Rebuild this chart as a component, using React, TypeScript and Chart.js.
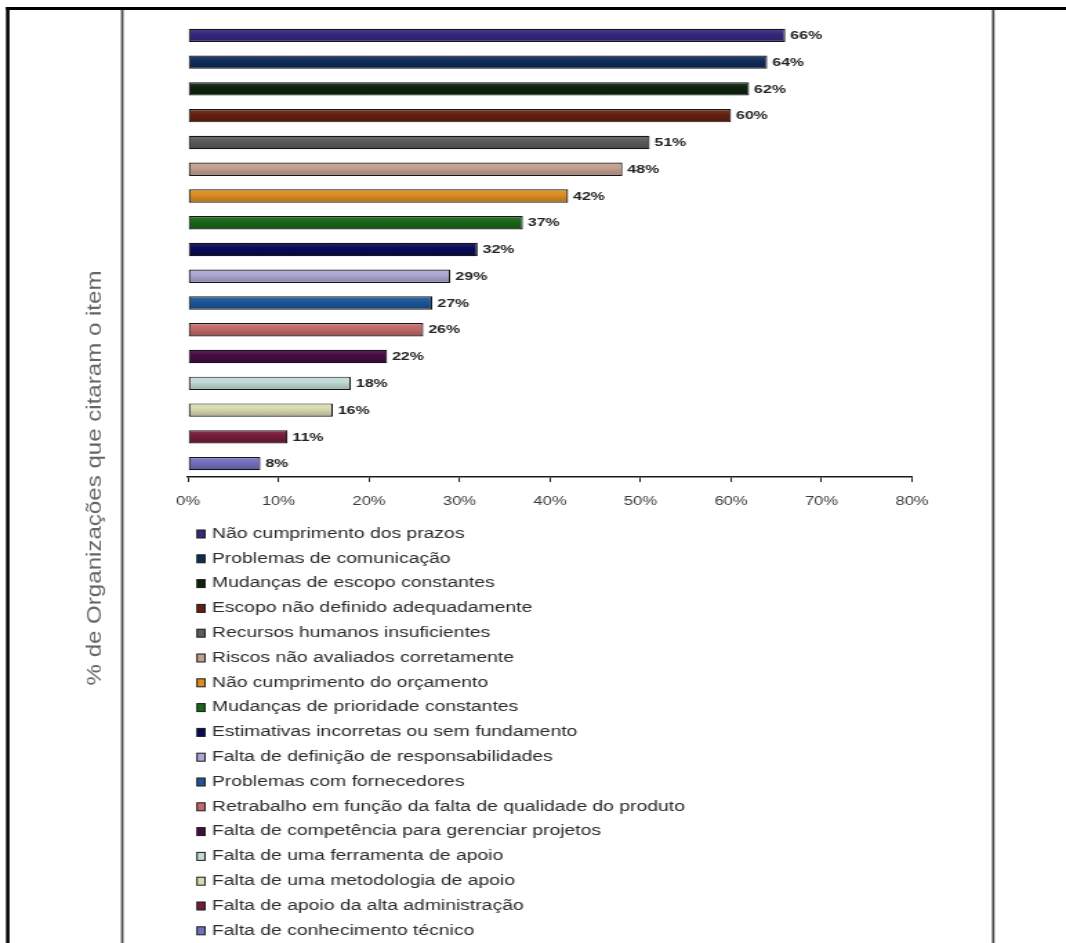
import React, { useEffect, useRef } from 'react';
import { Chart, registerables } from 'chart.js';

Chart.register(...registerables);

// ---------- data ----------
const categories = [
  'Não cumprimento dos prazos',
  'Problemas de comunicação',
  'Mudanças de escopo constantes',
  'Escopo não definido adequadamente',
  'Recursos humanos insuficientes',
  'Riscos não avaliados corretamente',
  'Não cumprimento do orçamento',
  'Mudanças de prioridade constantes',
  'Estimativas incorretas ou sem fundamento',
  'Falta de definição de responsabilidades',
  'Problemas com fornecedores',
  'Retrabalho em função da falta de qualidade do produto',
  'Falta de competência para gerenciar projetos',
  'Falta de uma ferramenta de apoio',
  'Falta de uma metodologia de apoio',
  'Falta de apoio da alta administração',
  'Falta de conhecimento técnico',
];

const values = [66, 64, 62, 60, 51, 48, 42, 37, 32, 29, 27, 26, 22, 18, 16, 11, 8];

const colors = [
  '#35287f',
  '#0f2c58',
  '#0e220e',
  '#65200f',
  '#5c5c5c',
  '#c4a08f',
  '#dc8e1f',
  '#1a661a',
  '#0a0a55',
  '#aca8d4',
  '#1d5699',
  '#c46868',
  '#470b43',
  '#c0dbd6',
  '#dadab2',
  '#761c3c',
  '#7270c0',
];

const xMin = 0;
const xMax = 80;
const xStep = 10;
const axisTitle = '% de Organizações que citaram o item';

// ---------- layout (canvas is drawn narrower and stretched horizontally) ----------
const W = 772;
const H = 943;
const SCREEN_W = 1066;
const S = SCREEN_W / W;
const sx = (x: number) => x / S;
const BAR_PCT = 0.5;
const FONT = '"Liberation Sans", Arial, sans-serif';

function hexToRgb(h: string) {
  const n = parseInt(h.slice(1), 16);
  return [(n >> 16) & 255, (n >> 8) & 255, n & 255];
}
function mix(a: string, b: string, t: number) {
  const A = hexToRgb(a);
  const B = hexToRgb(b);
  const c = A.map((v, i) => Math.round(v + (B[i] - v) * t));
  return `rgb(${c[0]},${c[1]},${c[2]})`;
}

const framePlugin = {
  id: 'frame',
  beforeDraw(chart: any) {
    const ctx = chart.ctx;
    ctx.save();
    ctx.fillStyle = '#ffffff';
    ctx.fillRect(0, 0, W, H);
    ctx.fillStyle = '#000000';
    ctx.fillRect(sx(6), 7, W, 3);
    ctx.fillRect(sx(6), 7, sx(3.5), H);
    ctx.fillStyle = '#4a4a4a';
    ctx.fillRect(sx(121), 10, sx(2.5), H);
    ctx.fillRect(sx(992), 10, sx(2.5), H);
    ctx.restore();
  },
};

const titlePlugin = {
  id: 'ytitle',
  afterDraw(chart: any) {
    const ctx = chart.ctx;
    ctx.save();
    ctx.translate(sx(95), 478);
    ctx.rotate(-Math.PI / 2);
    ctx.scale(1.72, 1);
    ctx.font = `14px ${FONT}`;
    ctx.fillStyle = '#666666';
    ctx.textAlign = 'center';
    ctx.textBaseline = 'middle';
    ctx.fillText(axisTitle, 0, 0);
    ctx.restore();
  },
};

const valueLabelPlugin = {
  id: 'valueLabels',
  afterDatasetsDraw(chart: any) {
    const ctx = chart.ctx;
    const meta = chart.getDatasetMeta(0);
    ctx.save();
    ctx.font = `bold 11.5px ${FONT}`;
    ctx.fillStyle = '#222222';
    ctx.textAlign = 'left';
    ctx.textBaseline = 'middle';
    meta.data.forEach((el: any, i: number) => {
      ctx.fillText(`${values[i]}%`, el.x + sx(5), el.y + 0.5);
    });
    ctx.restore();
  },
};

const legendPlugin = {
  id: 'listLegend',
  afterDraw(chart: any) {
    const ctx = chart.ctx;
    ctx.save();
    ctx.font = `14px ${FONT}`;
    ctx.textAlign = 'left';
    ctx.textBaseline = 'middle';
    categories.forEach((label, i) => {
      const y = 534 + i * 24.8;
      ctx.fillStyle = colors[i];
      ctx.fillRect(sx(197), y - 4, sx(8), 8);
      ctx.strokeStyle = '#1a1a1a';
      ctx.lineWidth = 1;
      ctx.strokeRect(sx(197), y - 4, sx(8), 8);
      ctx.fillStyle = '#2a2a2a';
      ctx.fillText(label, sx(212), y);
    });
    ctx.restore();
  },
};

export default function App() {
  const ref = useRef<HTMLCanvasElement>(null);

  useEffect(() => {
    const canvas = ref.current;
    if (!canvas) return;
    const chart = new Chart(canvas, {
      type: 'bar',
      data: {
        labels: categories,
        datasets: [
          {
            data: values,
            backgroundColor: (c: any) => {
              const i = c.dataIndex;
              const base = colors[i] ?? '#000000';
              const ys = c.chart.scales?.y;
              if (c.type !== 'data' || !ys || ys.bottom === undefined) return base;
              const band = (ys.bottom - ys.top) / categories.length;
              const h = band * BAR_PCT;
              const yc = ys.getPixelForValue(i);
              if (!isFinite(yc)) return base;
              const g = c.chart.ctx.createLinearGradient(0, yc - h / 2, 0, yc + h / 2);
              g.addColorStop(0, mix(base, '#ffffff', 0.12));
              g.addColorStop(0.4, base);
              g.addColorStop(1, mix(base, '#000000', 0.22));
              return g;
            },
            borderColor: '#161616',
            borderWidth: 1.2,
            borderSkipped: false,
            barPercentage: BAR_PCT,
            categoryPercentage: 1,
          },
        ],
      },
      options: {
        indexAxis: 'y',
        responsive: false,
        animation: false,
        devicePixelRatio: 1,
        events: [],
        layout: {
          padding: { left: sx(188), right: W - sx(912), top: 22, bottom: 0 },
        },
        plugins: {
          legend: { display: false },
          tooltip: { enabled: false },
          title: { display: false },
        },
        scales: {
          y: {
            type: 'category',
            display: false,
            offset: true,
          },
          x: {
            type: 'linear',
            min: xMin,
            max: xMax,
            ticks: {
              stepSize: xStep,
              padding: 12,
              color: '#3a3a3a',
              font: { size: 12, family: FONT },
              callback: (v: any) => `${v}%`,
              maxRotation: 0,
            },
            grid: {
              display: true,
              drawOnChartArea: false,
              drawTicks: true,
              tickLength: 5,
              tickColor: '#1c1c1c',
              lineWidth: 1,
            },
            border: { display: true, color: '#1c1c1c', width: 1.5 },
            afterFit: (scale: any) => {
              scale.height = H - 477;
            },
          },
        },
      },
      plugins: [framePlugin, valueLabelPlugin, titlePlugin, legendPlugin],
    });
    return () => chart.destroy();
  }, []);

  return (
    <canvas
      ref={ref}
      width={W}
      height={H}
      style={{ position: 'absolute', left: 0, top: 0, width: `${SCREEN_W}px`, height: `${H}px` }}
    />
  );
}
